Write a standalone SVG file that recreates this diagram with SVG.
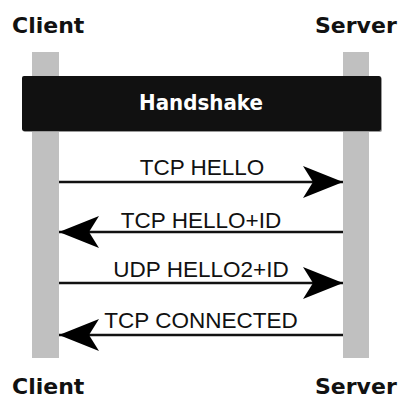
<svg xmlns="http://www.w3.org/2000/svg" width="403" height="398" viewBox="0 0 403 398">
<defs>
<style>
.actor{font-family:"DejaVu Sans",Verdana,sans-serif;font-weight:bold;font-size:22px;fill:#111}
.life{fill:#c0c0c0}
.msg{font-family:"Liberation Sans",Arial,sans-serif;font-size:22.5px;fill:#111;text-anchor:middle}
.line{stroke:#111;stroke-width:2.5;fill:none}
</style>
<marker id="ah" viewBox="0 0 40 32" refX="40" refY="16" markerWidth="40" markerHeight="32" markerUnits="userSpaceOnUse" orient="auto">
<path d="M40,16 L0,0 L10,16 L0,32 Z" fill="#000"/>
</marker>
</defs>
<rect width="403" height="398" fill="#fff"/>
<g id="client">
<rect class="life" x="32" y="52" width="27" height="306"/>
<text class="actor" x="12" y="33">Client</text>
<text class="actor" x="12" y="394">Client</text>
</g>
<g id="server">
<rect class="life" x="343" y="52" width="26" height="306"/>
<text class="actor" x="315" y="33">Server</text>
<text class="actor" x="315" y="394">Server</text>
</g>
<g id="handshake">
<rect x="23" y="77" width="359" height="55" rx="2" fill="#999"/>
<rect x="22" y="76" width="359" height="55" rx="2" fill="#111"/>
<text x="201" y="110" font-family="DejaVu Sans,Verdana,sans-serif" font-weight="bold" font-size="22" fill="#fff" text-anchor="middle" textLength="124" lengthAdjust="spacingAndGlyphs">Handshake</text>
</g>
<g id="connectors">
<line class="line" x1="59" y1="182" x2="343" y2="182" marker-end="url(#ah)"/>
<line class="line" x1="343" y1="232" x2="59" y2="232" marker-end="url(#ah)"/>
<line class="line" x1="59" y1="283" x2="343" y2="283" marker-end="url(#ah)"/>
<line class="line" x1="343" y1="335" x2="59" y2="335" marker-end="url(#ah)"/>
<text class="msg" x="202" y="175">TCP HELLO</text>
<text class="msg" x="201" y="228">TCP HELLO+ID</text>
<text class="msg" x="201" y="277">UDP HELLO2+ID</text>
<text class="msg" x="201" y="328">TCP CONNECTED</text>
</g>
</svg>
